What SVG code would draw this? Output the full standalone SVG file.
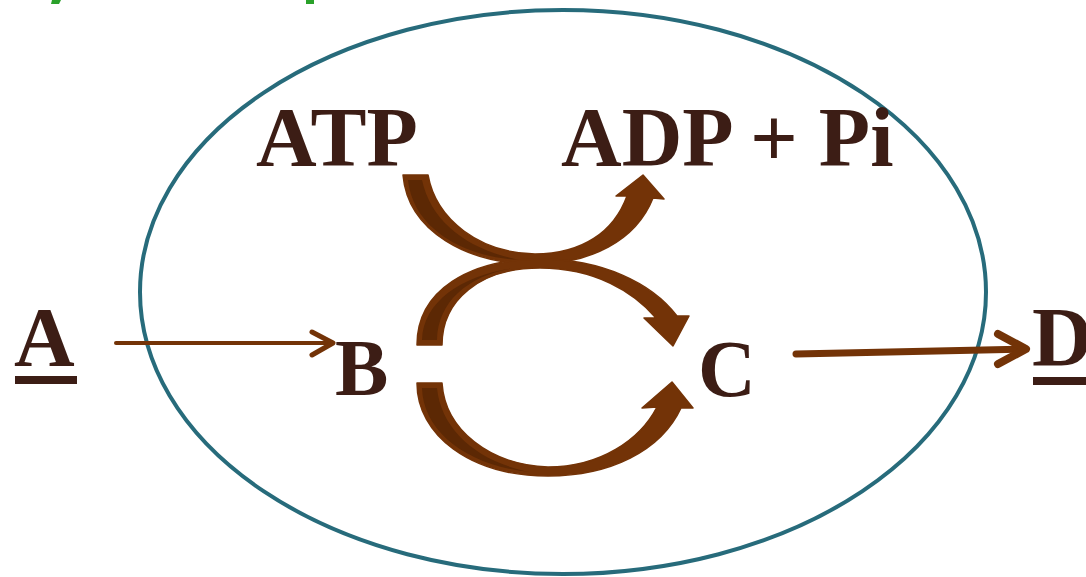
<svg xmlns="http://www.w3.org/2000/svg" width="1086" height="577" viewBox="0 0 1086 577">
<style>
.lbl{font-family:'Liberation Serif',serif;font-weight:700;font-size:84px;fill:#3c1d15}
.sm{font-size:80px}
.arr{fill:#733307;stroke:#733307;stroke-width:1.5;stroke-linejoin:round}
.shade{fill:#5c2804}
.line{stroke:#733307;fill:none;stroke-linecap:round;stroke-linejoin:round}
</style>
<rect width="1086" height="577" fill="#ffffff"/>
<g id="fragments" fill="#2aa12a">
<polygon points="52,0 61,0 59,4 51,4"/>
<rect x="306" y="0" width="8" height="4"/>
</g>
<g id="cell">
<ellipse cx="563" cy="292" rx="423" ry="282" fill="none" stroke="#276b7b" stroke-width="4"/>
</g>
<g id="connectors">
<g id="atp-adp">
<path class="arr" d="M403 175 L428 175 C436 220 480 253 535 254 C582 254 614 232 627 196 L616 196 L643 175 L664 199 L653 198 C636 241 590 264 535 264 C468 264 408 232 403 175 Z"/>
<path class="shade" d="M408 180 L422 180 C431 222 468 250 520 260 C462 257 413 228 408 180 Z"/>
</g>
<g id="b-c-upper">
<path class="arr" d="M417 345 C417 290 470 259 540 259 C602 259 652 283 677 316 L689 316 L673 346 L644 318 L656 318 C634 292 595 268 540 268 C480 268 442 300 442 345 Z"/>
<path class="shade" d="M422 340 L437 340 C438 300 470 275 515 268 C465 274 423 300 422 340 Z"/>
</g>
<g id="b-c-lower">
<path class="arr" d="M417 383 L442 383 C445 430 490 465 548 467 C600 467 640 440 657 407 L642 408 L672 382 L693 408 L681 408 C661 451 610 476 548 476 C470 476 417 435 417 383 Z"/>
<path class="shade" d="M422 388 L437 388 C441 430 478 462 530 472 C468 466 423 432 422 388 Z"/>
</g>
<g id="a-b">
<line class="line" x1="116" y1="343" x2="332" y2="343" stroke-width="4"/>
<polyline class="line" points="312,332 333,343 312,355" stroke-width="5"/>
</g>
<g id="c-d">
<line class="line" x1="796" y1="354" x2="1024" y2="349" stroke-width="7"/>
<polyline class="line" points="998,334 1026,349 998,364" stroke-width="8"/>
</g>
</g>
<g id="node-A">
<text class="lbl" x="14" y="366">A</text>
<rect x="15" y="376" width="62" height="8" fill="#3c1d15"/>
</g>
<g id="node-B"><text class="lbl sm" x="335" y="395">B</text></g>
<g id="node-C"><text class="lbl sm" x="698" y="396">C</text></g>
<g id="node-D">
<text class="lbl" x="1032" y="366">D</text>
<rect x="1033" y="377" width="60" height="8" fill="#3c1d15"/>
</g>
<g id="node-ATP"><text class="lbl" x="256" y="166">ATP</text></g>
<g id="node-ADP"><text class="lbl" x="561" y="166">ADP + Pi</text></g>
</svg>
